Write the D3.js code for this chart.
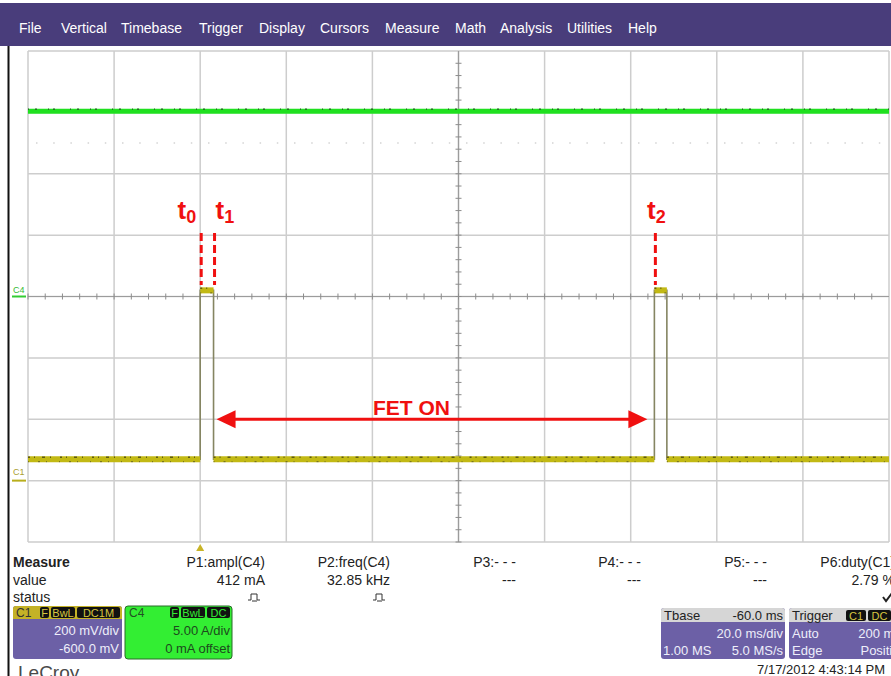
<!DOCTYPE html>
<html>
<head>
<meta charset="utf-8">
<script src="https://cdn.jsdelivr.net/npm/d3@7"></script>
<style>
  body { margin: 0; background: #fff; }
  svg { display: block; font-family: "Liberation Sans", Arial, sans-serif; }
</style>
</head>
<body>
<div id="scope"></div>
<script>
const menuItems = ["File", "Vertical", "Timebase", "Trigger", "Display", "Cursors", "Measure", "Math", "Analysis", "Utilities", "Help"];
const menuX = [19, 61, 121, 199, 259, 320, 385, 455, 500, 567, 628];

const timeDomain = [-40, 160];      // ms (20 ms/div, 10 div)
const c1Domain = [-200, 1400];      // mV (200 mV/div, offset -600 mV)
const c4Domain = [-20, 20];         // A (5 A/div, 0 offset)

const pulseStarts = [0, 105.5];     // ms
const pulseEnds = [3.1, 108.4];     // ms
const c1Low = 70;                   // mV
const c1High = 620;                 // mV
const c4Level = 15.1;               // A
const arrowLevel = 200;             // mV

const markerLabels = ["0", "1", "2"];
const measureNames = ["P1:ampl(C4)", "P2:freq(C4)", "P3:- - -", "P4:- - -", "P5:- - -", "P6:duty(C1)"];
const measureValues = ["412 mA", "32.85 kHz", "---", "---", "---", "2.79 %"];
const measureStatus = ["pulse", "pulse", "", "", "", "check"];
const measureRight = [265, 390, 516, 641, 767, 895];

const width = 891, height = 676;
const grid = {left: 28, right: 889, top: 51, bottom: 542};
const red = "#f01010";

const svg = d3.select("#scope").append("svg")
  .attr("width", width).attr("height", height);

const x = d3.scaleLinear().domain(timeDomain).range([grid.left, grid.right]);
const yC1 = d3.scaleLinear().domain(c1Domain).range([grid.bottom, grid.top]);
const yC4 = d3.scaleLinear().domain(c4Domain).range([grid.bottom, grid.top]);

// barre de menu
svg.append("rect").attr("x", 0).attr("y", 3).attr("width", width).attr("height", 43).attr("fill", "#493d7b");
svg.selectAll("text.menu").data(menuItems).enter().append("text")
  .attr("class", "menu")
  .attr("x", (d, i) => menuX[i]).attr("y", 33)
  .attr("fill", "#fff").attr("font-size", 14)
  .text(d => d);

// bord noir à gauche
svg.append("line").attr("x1", 8.5).attr("x2", 8.5).attr("y1", 46).attr("y2", height)
  .attr("stroke", "#111").attr("stroke-width", 2);

// grille
const gridG = svg.append("g");
const xTicks = d3.range(timeDomain[0], timeDomain[1] + 1, 20);
const yTicks = d3.range(c1Domain[0], c1Domain[1] + 1, 200);
gridG.selectAll("line.v").data(xTicks).enter().append("line")
  .attr("x1", d => x(d)).attr("x2", d => x(d))
  .attr("y1", grid.top).attr("y2", grid.bottom)
  .attr("stroke", "#cdcdcd").attr("stroke-width", 1.5);
gridG.selectAll("line.h").data(yTicks).enter().append("line")
  .attr("y1", d => yC1(d)).attr("y2", d => yC1(d))
  .attr("x1", grid.left).attr("x2", grid.right)
  .attr("stroke", "#cdcdcd").attr("stroke-width", 1.5);

// rangée de points pâles
gridG.append("line")
  .attr("x1", grid.left).attr("x2", grid.right)
  .attr("y1", 143).attr("y2", 143)
  .attr("stroke", "#d4d4d4").attr("stroke-width", 1.5)
  .attr("stroke-dasharray", "1.5,15.7").attr("stroke-dashoffset", -8);

// axes centraux avec graduations
const cx = x(60), cy = yC1(600);
gridG.append("line").attr("x1", cx).attr("x2", cx).attr("y1", grid.top).attr("y2", grid.bottom)
  .attr("stroke", "#9c9c9c").attr("stroke-width", 1.2);
gridG.append("line").attr("y1", cy).attr("y2", cy).attr("x1", grid.left).attr("x2", grid.right)
  .attr("stroke", "#9c9c9c").attr("stroke-width", 1.2);
gridG.selectAll("line.tx").data(d3.range(timeDomain[0], timeDomain[1], 4)).enter().append("line")
  .attr("x1", d => x(d)).attr("x2", d => x(d)).attr("y1", cy - 3).attr("y2", cy + 3)
  .attr("stroke", "#8c8c8c");
gridG.selectAll("line.ty").data(d3.range(c1Domain[0], c1Domain[1], 40)).enter().append("line")
  .attr("y1", d => yC1(d)).attr("y2", d => yC1(d)).attr("x1", cx - 3).attr("x2", cx + 3)
  .attr("stroke", "#8c8c8c");

// trace C4 (verte)
const c4Line = d3.line().x(d => x(d[0])).y(d => yC4(d[1]));
const c4Pts = [[timeDomain[0], c4Level], [timeDomain[1], c4Level]];
svg.append("path").attr("d", c4Line(c4Pts)).attr("fill", "none")
  .attr("stroke", "#1fe01f").attr("stroke-width", 5);
svg.append("path").attr("d", c4Line(c4Pts)).attr("fill", "none")
  .attr("transform", "translate(0,-2)")
  .attr("stroke", "#2a6a2a").attr("stroke-width", 1.5)
  .attr("stroke-dasharray", "1,6,2,11,1,4,2,15");

// trace C1 (jaune) avec impulsions
const c1Pts = [[timeDomain[0], c1Low]];
pulseStarts.forEach((s, i) => {
  c1Pts.push([s, c1Low], [s, c1High], [pulseEnds[i], c1High], [pulseEnds[i], c1Low]);
});
c1Pts.push([timeDomain[1], c1Low]);
const c1Line = d3.line().x(d => x(d[0])).y(d => yC1(d[1]));
svg.append("path").attr("d", c1Line(c1Pts)).attr("fill", "none")
  .attr("stroke", "#858562").attr("stroke-width", 1.6);

// segments horizontaux (bande épaisse)
const flats = [];
for (let i = 0; i < c1Pts.length - 1; i++) {
  if (c1Pts[i][1] === c1Pts[i + 1][1]) flats.push([c1Pts[i], c1Pts[i + 1]]);
}
svg.selectAll("path.flat").data(flats).enter().append("path")
  .attr("d", d => c1Line(d)).attr("fill", "none")
  .attr("stroke", "#c2b914").attr("stroke-width", d => d[0][1] === c1High ? 6 : 6);
svg.selectAll("path.speck").data(flats).enter().append("path")
  .attr("d", d => c1Line(d)).attr("fill", "none")
  .attr("transform", "translate(0,-2)")
  .attr("stroke", "#5e5a16").attr("stroke-width", 1.5)
  .attr("stroke-dasharray", "2,4,1,7,3,5,1,9");
svg.selectAll("path.speck2").data(flats).enter().append("path")
  .attr("d", d => c1Line(d)).attr("fill", "none")
  .attr("transform", "translate(0,2.5)")
  .attr("stroke", "#6e6a20").attr("stroke-width", 1)
  .attr("stroke-dasharray", "1,9,2,6,1,12");

// repères à gauche
svg.append("text").attr("x", 13).attr("y", yC4(0) - 4).attr("font-size", 9).attr("fill", "#33bb33").text("C4");
svg.append("line").attr("x1", 12).attr("x2", 26).attr("y1", yC4(0)).attr("y2", yC4(0))
  .attr("stroke", "#33cc33").attr("stroke-width", 2);
svg.append("text").attr("x", 13).attr("y", yC1(0) - 6).attr("font-size", 9).attr("fill", "#aaa030").text("C1");
svg.append("line").attr("x1", 12).attr("x2", 26).attr("y1", yC1(0)).attr("y2", yC1(0))
  .attr("stroke", "#b8ae1c").attr("stroke-width", 2);

// repère de déclenchement
svg.append("path")
  .attr("d", `M${x(0)},${grid.bottom + 2} l4,7 h-8 z`)
  .attr("fill", "#c8b428");

// annotations rouges
const markerTimes = [pulseStarts[0], pulseEnds[0], pulseStarts[1]];
const markerAnchor = ["end", "start", "middle"];
const markerDx = [-4, 2, 2];
svg.selectAll("line.mk").data(markerTimes).enter().append("line")
  .attr("x1", d => x(d) + 1).attr("x2", d => x(d) + 1)
  .attr("y1", 233).attr("y2", 285)
  .attr("stroke", red).attr("stroke-width", 3)
  .attr("stroke-dasharray", "8,4");
const lbl = svg.selectAll("text.mk").data(markerTimes).enter().append("text")
  .attr("x", (d, i) => x(d) + markerDx[i]).attr("y", 219)
  .attr("text-anchor", (d, i) => markerAnchor[i])
  .attr("fill", red).attr("font-weight", "bold").attr("font-size", 26);
lbl.append("tspan").text("t");
lbl.append("tspan").attr("font-size", 18).attr("dy", 4).text((d, i) => markerLabels[i]);

// flèche double
const ay = yC1(arrowLevel);
const ax1 = x(pulseEnds[0]) + 3, ax2 = x(pulseStarts[1]) - 7;
svg.append("line").attr("x1", ax1 + 10).attr("x2", ax2 - 10).attr("y1", ay).attr("y2", ay)
  .attr("stroke", red).attr("stroke-width", 3);
svg.append("path").attr("d", `M${ax1},${ay} l19,-9 v18 z`).attr("fill", red);
svg.append("path").attr("d", `M${ax2},${ay} l-19,-9 v18 z`).attr("fill", red);
svg.append("text").attr("x", 373).attr("y", 415)
  .attr("fill", red).attr("font-weight", "bold").attr("font-size", 21).text("FET ON");

// panneau de mesures
const mp = svg.append("g").attr("font-size", 14).attr("fill", "#222");
mp.append("text").attr("x", 13).attr("y", 567).attr("font-weight", "bold").text("Measure");
mp.append("text").attr("x", 13).attr("y", 585).text("value");
mp.append("text").attr("x", 13).attr("y", 602).text("status");
measureNames.forEach((n, i) => {
  mp.append("text").attr("x", measureRight[i]).attr("y", 567).attr("text-anchor", "end").text(n);
  mp.append("text").attr("x", measureRight[i]).attr("y", 585).attr("text-anchor", "end").text(measureValues[i]);
  if (measureStatus[i] === "pulse") {
    mp.append("path")
      .attr("d", `M${measureRight[i] - 17},600 h3 v-6 h6 v6 h3 M${measureRight[i] - 13},601 h5`)
      .attr("fill", "none").attr("stroke", "#333").attr("stroke-width", 1);
  } else if (measureStatus[i] === "check") {
    mp.append("path")
      .attr("d", `M${measureRight[i] - 12},597 l3,4 l6,-8`)
      .attr("fill", "none").attr("stroke", "#222").attr("stroke-width", 2);
  }
});

// boîtes de canaux
function badge(g, bx, by, txt, w, col) {
  g.append("rect").attr("x", bx).attr("y", by).attr("width", w).attr("height", 11).attr("rx", 2).attr("fill", "#111");
  g.append("text").attr("x", bx + w / 2).attr("y", by + 9.5).attr("text-anchor", "middle")
    .attr("font-size", 11).attr("fill", col).text(txt);
}
const boxes = svg.append("g").attr("font-size", 13);
// C1
boxes.append("rect").attr("x", 13).attr("y", 606).attr("width", 109).attr("height", 53).attr("rx", 3).attr("fill", "#6c60a6");
boxes.append("path").attr("d", "M13,619 v-10 q0,-3 3,-3 h103 q3,0 3,3 v10 z").attr("fill", "#c4b226");
boxes.append("text").attr("x", 16).attr("y", 617).attr("font-size", 12).attr("fill", "#333").text("C1");
badge(boxes, 40, 607, "F", 9, "#d6c640");
badge(boxes, 51, 607, "BwL", 24, "#d6c640");
badge(boxes, 77, 607, "DC1M", 43, "#d6c640");
boxes.append("text").attr("x", 119).attr("y", 635).attr("text-anchor", "end").attr("fill", "#eeeefa").text("200 mV/div");
boxes.append("text").attr("x", 119).attr("y", 653).attr("text-anchor", "end").attr("fill", "#eeeefa").text("-600.0 mV");
// C4
boxes.append("rect").attr("x", 125).attr("y", 606).attr("width", 107).attr("height", 53).attr("rx", 3)
  .attr("fill", "#33ee33").attr("stroke", "#2a6a2a").attr("stroke-width", 1);
boxes.append("text").attr("x", 129).attr("y", 617).attr("font-size", 12).attr("fill", "#235023").text("C4");
badge(boxes, 170, 607, "F", 9, "#33ee33");
badge(boxes, 181, 607, "BwL", 24, "#33ee33");
badge(boxes, 207, 607, "DC", 23, "#33ee33");
boxes.append("text").attr("x", 230).attr("y", 635).attr("text-anchor", "end").attr("fill", "#1d4a1d").text("5.00 A/div");
boxes.append("text").attr("x", 230).attr("y", 653).attr("text-anchor", "end").attr("fill", "#1d4a1d").text("0 mA offset");
// Tbase
boxes.append("rect").attr("x", 661).attr("y", 608).attr("width", 124).attr("height", 51).attr("rx", 3).attr("fill", "#6c60a6");
boxes.append("path").attr("d", "M661,622 v-11 q0,-3 3,-3 h118 q3,0 3,3 v11 z").attr("fill", "#d6d6d6");
boxes.append("text").attr("x", 664).attr("y", 620).attr("fill", "#222").text("Tbase");
boxes.append("text").attr("x", 783).attr("y", 620).attr("text-anchor", "end").attr("fill", "#222").text("-60.0 ms");
boxes.append("text").attr("x", 783).attr("y", 638).attr("text-anchor", "end").attr("fill", "#eeeefa").text("20.0 ms/div");
boxes.append("text").attr("x", 663).attr("y", 655).attr("fill", "#eeeefa").text("1.00 MS");
boxes.append("text").attr("x", 783).attr("y", 655).attr("text-anchor", "end").attr("fill", "#eeeefa").text("5.0 MS/s");
// Trigger
boxes.append("rect").attr("x", 789).attr("y", 608).attr("width", 120).attr("height", 51).attr("rx", 3).attr("fill", "#6c60a6");
boxes.append("path").attr("d", "M789,622 v-11 q0,-3 3,-3 h117 v14 z").attr("fill", "#d6d6d6");
boxes.append("text").attr("x", 792).attr("y", 620).attr("fill", "#222").text("Trigger");
badge(boxes, 846, 610, "C1", 20, "#d6c640");
badge(boxes, 868, 610, "DC", 23, "#d6c640");
boxes.append("text").attr("x", 792).attr("y", 638).attr("fill", "#eeeefa").text("Auto");
boxes.append("text").attr("x", 903).attr("y", 638).attr("text-anchor", "end").attr("fill", "#eeeefa").text("200 mV");
boxes.append("text").attr("x", 792).attr("y", 655).attr("fill", "#eeeefa").text("Edge");
boxes.append("text").attr("x", 906).attr("y", 655).attr("text-anchor", "end").attr("fill", "#eeeefa").text("Positive");

// pied de page
svg.append("text").attr("x", 18).attr("y", 679).attr("font-size", 19).attr("fill", "#4a4a4a").text("LeCroy");
svg.append("text").attr("x", 885).attr("y", 674).attr("text-anchor", "end").attr("font-size", 13).attr("fill", "#222")
  .text("7/17/2012 4:43:14 PM");
</script>
</body>
</html>
